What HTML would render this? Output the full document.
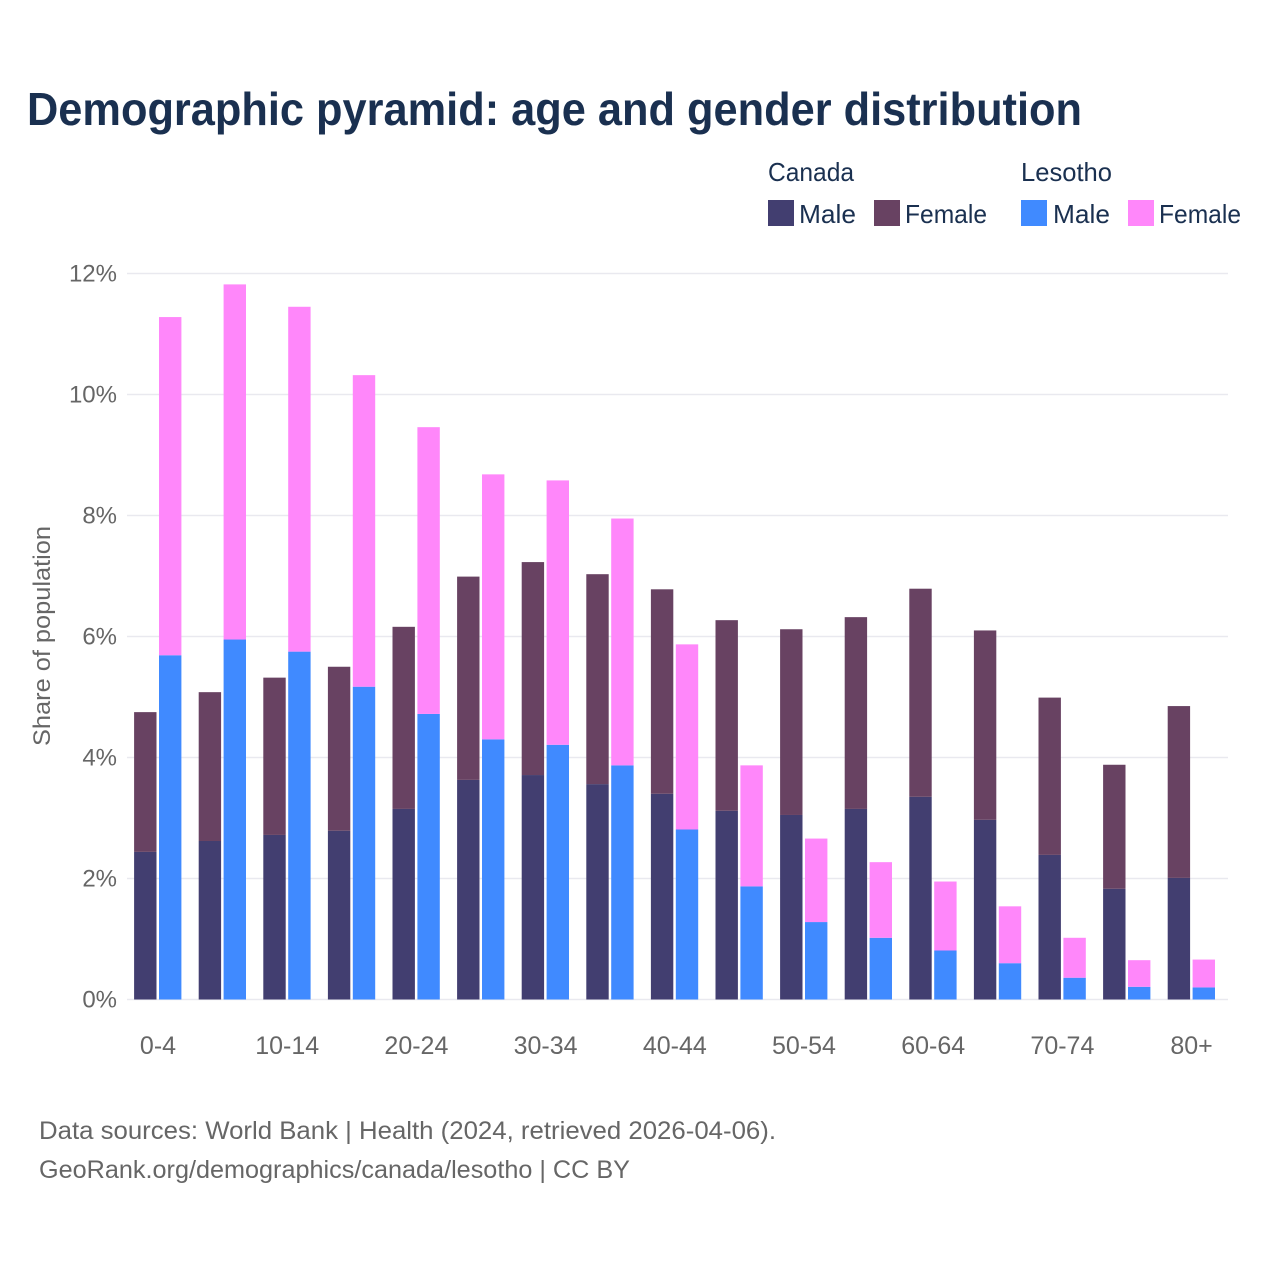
<!DOCTYPE html>
<html lang="en">
<head>
<meta charset="utf-8">
<title>Demographic pyramid: age and gender distribution</title>
<style>
  html, body { margin: 0; padding: 0; background: #ffffff; }
  svg { display: block; font-family: "Liberation Sans", sans-serif; }
</style>
</head>
<body>
<svg id="chart" xmlns="http://www.w3.org/2000/svg" width="1280" height="1280" viewBox="0 0 1280 1280">
  <rect width="1280" height="1280" fill="#ffffff"/>
  <text x="27" y="125" font-size="46" font-weight="700" fill="#1a3050" textLength="1055" lengthAdjust="spacingAndGlyphs">Demographic pyramid: age and gender distribution</text>

  <g font-size="26" fill="#1a3050">
    <text x="768" y="181" textLength="86" lengthAdjust="spacingAndGlyphs">Canada</text>
    <text x="1021" y="181" textLength="91" lengthAdjust="spacingAndGlyphs">Lesotho</text>
    <rect x="768" y="200" width="26" height="26" fill="#423e70"/>
    <text x="799" y="223" textLength="57" lengthAdjust="spacingAndGlyphs">Male</text>
    <rect x="874" y="200" width="26" height="26" fill="#684262"/>
    <text x="905" y="223" textLength="82" lengthAdjust="spacingAndGlyphs">Female</text>
    <rect x="1021" y="200" width="26" height="26" fill="#408aff"/>
    <text x="1053" y="223" textLength="57" lengthAdjust="spacingAndGlyphs">Male</text>
    <rect x="1128" y="200" width="26" height="26" fill="#ff87fa"/>
    <text x="1159" y="223" textLength="82" lengthAdjust="spacingAndGlyphs">Female</text>
  </g>

  <g id="grid"></g>
  <g id="bars"></g>
  <g id="y-ticks"></g>
  <g id="x-ticks"></g>

  <text transform="translate(50,636) rotate(-90)" text-anchor="middle" font-size="24" fill="#666666" textLength="220" lengthAdjust="spacingAndGlyphs">Share of population</text>

  <text x="39" y="1139" font-size="25" fill="#666666" textLength="737" lengthAdjust="spacingAndGlyphs">Data sources: World Bank | Health (2024, retrieved 2026-04-06).</text>
  <text x="39" y="1178" font-size="25" fill="#666666" textLength="591" lengthAdjust="spacingAndGlyphs">GeoRank.org/demographics/canada/lesotho | CC BY</text>
</svg>

<script>
var categories = ['0-4','5-9','10-14','15-19','20-24','25-29','30-34','35-39','40-44','45-49','50-54','55-59','60-64','65-69','70-74','75-79','80+'];
var canadaMale = [2.44,2.62,2.72,2.79,3.15,3.63,3.71,3.56,3.40,3.12,3.05,3.15,3.35,2.97,2.39,1.83,2.01];
var canadaFemale = [2.31,2.46,2.60,2.71,3.01,3.36,3.52,3.47,3.38,3.15,3.07,3.17,3.44,3.13,2.60,2.05,2.84];
var lesothoMale = [5.69,5.95,5.75,5.17,4.72,4.30,4.21,3.87,2.81,1.87,1.28,1.02,0.81,0.60,0.36,0.21,0.20];
var lesothoFemale = [5.59,5.87,5.70,5.15,4.74,4.38,4.37,4.08,3.06,2.00,1.38,1.25,1.14,0.94,0.66,0.44,0.46];
var yTickValues = [0,2,4,6,8,10,12];
var xTickLabels = ['0-4','10-14','20-24','30-34','40-44','50-54','60-64','70-74','80+'];

var NS = 'http://www.w3.org/2000/svg';
function yScale(v) { return 999.5 - v * 60.5; }
function xCenter(i) { return 158 + i * 64.6; }

function make(tag, attrs, parent) {
  var el = document.createElementNS(NS, tag);
  for (var k in attrs) { el.setAttribute(k, attrs[k]); }
  parent.appendChild(el);
  return el;
}

var gridGroup = document.getElementById('grid');
var yTickGroup = document.getElementById('y-ticks');
yTickValues.forEach(function (v) {
  var line = make('line', { x1: 127, x2: 1228, y1: yScale(v), y2: yScale(v), stroke: '#e9e9ef', 'stroke-width': 1.5 }, gridGroup);
  
  
  var label = make('text', { x: 117, y: yScale(v) + 8, 'text-anchor': 'end', 'font-size': 24, fill: '#666666' }, yTickGroup);
  
  
  label.textContent = v + '%';
});

var xTickGroup = document.getElementById('x-ticks');
xTickLabels.forEach(function (t) {
  var i = categories.indexOf(t);
  var label = make('text', { x: xCenter(i), y: 1054, 'text-anchor': 'middle', 'font-size': 25, fill: '#666666' }, xTickGroup);
  
  
  label.textContent = t;
});

var barGroup = document.getElementById('bars');
function drawBar(x, base, value, color, name) {
  var top = yScale(base + value);
  var bottom = yScale(base);
  var bar = make('rect', { x: x, y: top, width: 22.4, height: bottom - top, fill: color }, barGroup);
  
  
}
categories.forEach(function (c, i) {
  var left = xCenter(i) - 23.9;
  var right = xCenter(i) + 1;
  drawBar(left, 0, canadaMale[i], '#423e70', 'bar-canada-male');
  drawBar(left, canadaMale[i], canadaFemale[i], '#684262', 'bar-canada-female');
  drawBar(right, 0, lesothoMale[i], '#408aff', 'bar-lesotho-male');
  drawBar(right, lesothoMale[i], lesothoFemale[i], '#ff87fa', 'bar-lesotho-female');
});
</script>
</body>
</html>
